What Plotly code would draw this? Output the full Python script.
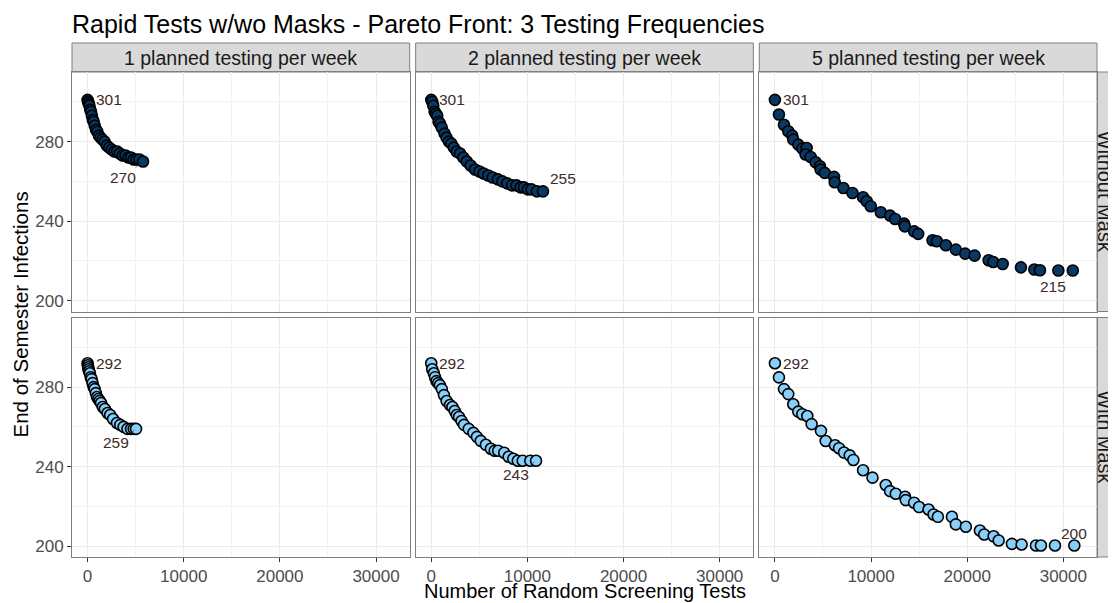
import plotly.graph_objects as go

# ---------------- data ----------------
freq_labels = ["1 planned testing per week", "2 planned testing per week", "5 planned testing per week"]
mask_labels = ["Without Mask", "With Mask"]

# Without mask
x_wo_1 = [0, 60, 120, 200, 280, 360, 450, 540, 640, 750, 880, 1020, 1180, 1350, 1550, 1770, 2000, 2250,
          2520, 2800, 3080, 3350, 3650, 3950, 4250, 4520, 4800, 5100, 5400, 5770]
y_wo_1 = [301, 300, 299, 298, 296, 295, 293, 291, 290, 288, 286, 285, 283, 282, 281, 280, 278, 277,
          276, 275, 275, 274, 273, 273, 272, 272, 271, 271, 271, 270]

x_wo_2 = [0, 100, 210, 350, 480, 625, 760, 920, 1100, 1390, 1600, 1840, 2100, 2350, 2650, 3000, 3340, 3700,
          4100, 4550, 5020, 5450, 5930, 6400, 6930, 7400, 7900, 8400, 8870, 9300, 9640, 10050, 10430, 11000, 11620]
y_wo_2 = [301, 300, 298, 295, 294, 293, 290, 289, 287, 284, 282, 280, 279, 277, 275, 274, 272, 270,
          268, 266, 265, 264, 263, 262, 261, 260, 259, 258, 258, 257, 257, 256, 256, 255, 255]

x_wo_5 = [0, 420, 940, 1390, 1810, 1910, 2430, 2850, 3300, 3190, 3720, 4240, 4690, 4760, 5180, 6150, 6220,
          7120, 8060, 9170, 9550, 9970, 11010, 11980, 12500, 13440, 13510, 14480, 14900, 16400, 16840, 17780,
          18820, 19790, 20770, 22230, 22710, 23690, 25590, 26980, 27570, 29480, 30980]
y_wo_5 = [301, 293.6, 288.5, 285.2, 283, 281, 278.5, 276.5, 276.8, 273.5, 272.3, 269.6, 267.6, 265.9, 264.3,
          262.3, 259.6, 256.7, 254.2, 252, 250, 247.5, 244.5, 242.8, 241.1, 238.8, 237.4, 234.9, 233.6, 230.4,
          229.9, 227.9, 225.7, 223.7, 222.7, 220.4, 219.5, 218.5, 216.8, 215.7, 215.3, 215.2, 215.2]

# With mask
x_w_1 = [0, 30, 60, 100, 160, 240, 330, 420, 520, 625, 740, 860, 980, 1120, 1250, 1400, 1580, 1800, 2080,
         2350, 2650, 3060, 3400, 3750, 4150, 4520, 4800, 5040]
y_w_1 = [292, 291, 290, 289, 288, 287, 285, 284, 282, 280, 279, 277, 275, 274, 273, 272, 270, 269, 267,
         266, 264, 262, 261, 260, 259, 259, 259, 259]

x_w_2 = [0, 100, 270, 400, 550, 720, 900, 1100, 1320, 1600, 1950, 2200, 2440, 2650, 2890, 3150, 3410, 3900,
         4390, 4750, 5150, 5680, 6200, 6600, 6960, 7590, 8050, 8530, 9000, 9510, 10300, 10900]
y_w_2 = [292, 289, 287, 285, 283, 282, 281, 279, 276, 273, 271, 270, 268, 266, 265, 263, 261, 259,
         257, 255, 253, 251, 249, 248, 248, 247, 245, 244, 243, 243, 243, 243]

x_w_5 = [0, 420, 940, 1390, 1910, 2430, 2850, 3370, 3820, 4790, 5280, 6250, 6670, 7190, 7780, 8160, 9170,
         10150, 11530, 11980, 12570, 13540, 13610, 14480, 15000, 15980, 16500, 16950, 18410, 18820, 19860,
         21320, 21770, 22750, 23270, 24650, 25660, 27150, 27670, 29130, 31140]
y_w_5 = [292, 284.9, 279, 276.5, 271.4, 267.7, 266.4, 265.5, 261.4, 258, 252.9, 250.8, 249.3, 247.1, 245.7,
         243.4, 238.2, 234.5, 230.8, 227.7, 226.4, 224.9, 223.2, 221.9, 219.7, 218.5, 216, 214.8, 214.8, 211,
         209.8, 207.9, 205.9, 205, 202.9, 201.2, 200.9, 200.4, 200.4, 200.4, 200.4]

x_ticks = [0, 10000, 20000, 30000]
y_ticks = [200, 240, 280]

# ---------------- layout helpers ----------------
# page has an 8px body margin, so the figure is laid out 8px smaller / shifted
W, H = 1108, 595
ml, mr, mt, mb = 64, 19, 64, 46
pw, ph = W - ml - mr, H - mt - mb
gap = 6
cw = (pw - 2 * gap) / 3
rh = (ph - gap) / 2
FONT = "Liberation Sans, Arial, Helvetica, sans-serif"
DARK = "#083864"
LIGHT = "#87CEFA"
LABEL_COL = "#402a2a"
BORDER = "#7f7f7f"

panels = [
    (x_wo_1, y_wo_1, DARK, 0, 0), (x_wo_2, y_wo_2, DARK, 0, 1), (x_wo_5, y_wo_5, DARK, 0, 2),
    (x_w_1, y_w_1, LIGHT, 1, 0), (x_w_2, y_w_2, LIGHT, 1, 1), (x_w_5, y_w_5, LIGHT, 1, 2),
]
# label offsets for the end point (ax, ay in px); None -> text above
end_offsets = [(-20, 16), (20, -13), (-20, 16), (-20, 14), (-20, 14), None]

fig = go.Figure()
annotations = []
shapes = []

for k, (xs, ys, col, r, c) in enumerate(panels):
    i = k + 1
    xa, ya = f"x{i}", f"y{i}"
    fig.add_trace(go.Scatter(
        x=xs, y=ys, mode="markers", xaxis=xa, yaxis=ya, showlegend=False,
        marker=dict(size=11, color=col, line=dict(color="black", width=1.6)),
        hoverinfo="x+y"))
    xd = [c * (cw + gap) / pw, (c * (cw + gap) + cw) / pw]
    yd = [(rh + gap) / ph, 1] if r == 0 else [0, rh / ph]
    bottom = r == 1
    left = c == 0
    fig.layout[f"xaxis{i}"] = dict(
        domain=xd, anchor=ya, range=[-1620, 33500], tickmode="array", tickvals=x_ticks,
        ticktext=[str(v) for v in x_ticks], showticklabels=bottom,
        ticks="outside" if bottom else "", ticklen=4, tickwidth=1, tickcolor="#333333",
        ticklabelstandoff=0,
        tickfont=dict(size=17, color="#4d4d4d", family=FONT),
        showgrid=True, gridcolor="#ebebeb", gridwidth=1, zeroline=False,
        showline=True, mirror=True, linecolor=BORDER, linewidth=1,
        minor=dict(tickmode="array", tickvals=[5000, 15000, 25000], showgrid=True,
                   gridcolor="#f3f3f3", gridwidth=0.7, ticks=""))
    fig.layout[f"yaxis{i}"] = dict(
        domain=yd, anchor=xa, range=[194.6, 315], tickmode="array", tickvals=y_ticks,
        ticktext=[str(v) for v in y_ticks], showticklabels=left,
        ticks="outside" if left else "", ticklen=4, tickwidth=1, tickcolor="#333333",
        tickfont=dict(size=17, color="#4d4d4d", family=FONT),
        showgrid=True, gridcolor="#ebebeb", gridwidth=1, zeroline=False,
        showline=True, mirror=True, linecolor=BORDER, linewidth=1,
        minor=dict(tickmode="array", tickvals=[220, 260, 300], showgrid=True,
                   gridcolor="#f3f3f3", gridwidth=0.7, ticks=""))

    # first point label
    annotations.append(dict(x=xs[0], y=ys[0], xref=xa, yref=ya, text=str(int(round(ys[0]))),
                            showarrow=False, xanchor="left", yanchor="middle", xshift=6,
                            font=dict(size=15.5, color=LABEL_COL, family=FONT)))
    # last point label
    off = end_offsets[k]
    if off is None:
        annotations.append(dict(x=xs[-1], y=ys[-1], xref=xa, yref=ya, text=str(int(round(ys[-1]))),
                                showarrow=False, xanchor="center", yanchor="middle", yshift=12,
                                font=dict(size=15.5, color=LABEL_COL, family=FONT)))
    else:
        annotations.append(dict(x=xs[-1], y=ys[-1], xref=xa, yref=ya, text=str(int(round(ys[-1]))),
                                showarrow=True, ax=off[0], ay=off[1], arrowhead=0, arrowwidth=0.6,
                                arrowcolor=LABEL_COL, standoff=2,
                                font=dict(size=15.5, color=LABEL_COL, family=FONT)))

# facet strips - top
for c, lab in enumerate(freq_labels):
    x0 = c * (cw + gap) / pw
    x1 = (c * (cw + gap) + cw) / pw
    shapes.append(dict(type="rect", xref="paper", yref="paper", x0=x0, x1=x1, y0=1, y1=1 + 29 / ph,
                       fillcolor="#d9d9d9", line=dict(color=BORDER, width=1), layer="below"))
    annotations.append(dict(x=(x0 + x1) / 2, y=1 + 14.5 / ph, xref="paper", yref="paper", text=lab,
                            showarrow=False, xanchor="center", yanchor="middle",
                            font=dict(size=19.5, color="#1a1a1a", family=FONT)))
# facet strips - right (partly outside the picture, as in the original)
for r, lab in enumerate(mask_labels):
    y0, y1 = ((rh + gap) / ph, 1) if r == 0 else (0, rh / ph)
    shapes.append(dict(type="rect", xref="paper", yref="paper", x0=1, x1=1 + 30 / pw, y0=y0, y1=y1,
                       fillcolor="#d9d9d9", line=dict(color=BORDER, width=1), layer="below"))
    annotations.append(dict(x=1 + 8 / pw, y=(y0 + y1) / 2, xref="paper", yref="paper", text=lab,
                            showarrow=False, xanchor="center", yanchor="middle", textangle=90,
                            font=dict(size=20, color="#1a1a1a", family=FONT)))

# axis titles (positions in figure px)
annotations.append(dict(x=0.5, y=-(583 - (H - mb)) / ph, xref="paper", yref="paper",
                        text="Number of Random Screening Tests", showarrow=False,
                        xanchor="center", yanchor="middle", font=dict(size=20, color="black", family=FONT)))
annotations.append(dict(x=(12 - ml) / pw, y=0.5, xref="paper", yref="paper",
                        text="End of Semester Infections", showarrow=False, textangle=-90,
                        xanchor="center", yanchor="middle", font=dict(size=20.5, color="black", family=FONT)))

fig.update_layout(
    width=W, height=H, margin=dict(l=ml, r=mr, t=mt, b=mb),
    paper_bgcolor="white", plot_bgcolor="white",
    title=dict(text="Rapid Tests w/wo Masks - Pareto Front: 3 Testing Frequencies",
               x=ml / W, xanchor="left", xref="container", y=1 - 16 / H, yanchor="middle",
               font=dict(size=25, color="black", family=FONT)),
    font=dict(family=FONT),
    annotations=annotations, shapes=shapes, showlegend=False,
)

fig.write_html("out.html")
